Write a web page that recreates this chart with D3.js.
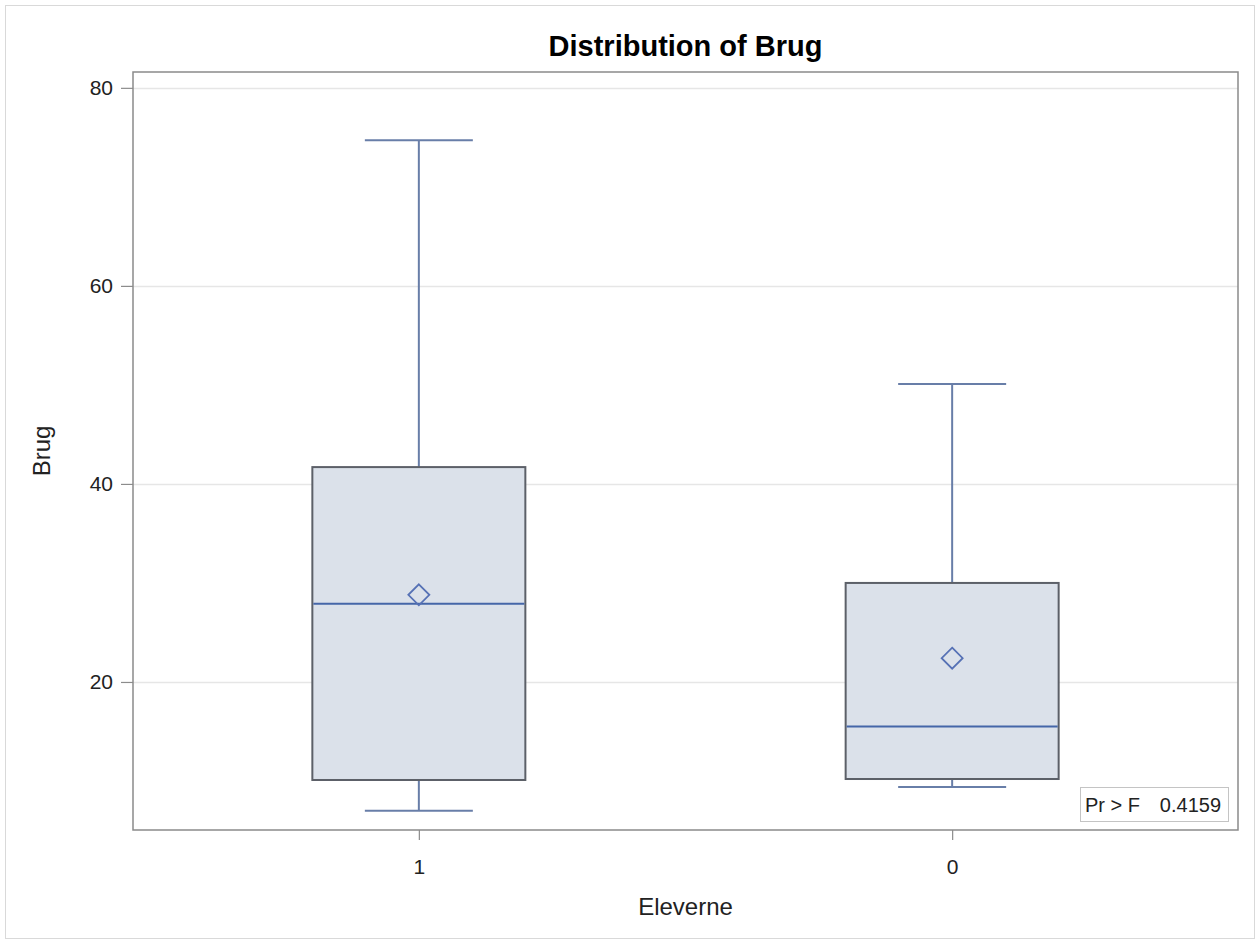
<!DOCTYPE html>
<html>
<head>
<meta charset="utf-8">
<script src="https://cdn.jsdelivr.net/npm/d3@7"></script>
<style>
  html, body { margin: 0; padding: 0; background: #fff; }
  svg { display: block; font-family: "Liberation Sans", Arial, sans-serif; }
</style>
</head>
<body>
<svg id="chart" width="1258" height="941"></svg>
<script>
// Groups of "Eleverne" and the summaries of "Brug"
const groups   = ["1", "0"];
const whiskLo  = [7, 9.4];
const q1       = [10.1, 10.2];
const medians  = [27.9, 15.5];
const means    = [28.8, 22.4];
const q3       = [41.7, 30];
const whiskHi  = [74.7, 50.1];
const yTicks   = [20, 40, 60, 80];
const pValue   = "0.4159";

const svg = d3.select("#chart");
const W = 1258, H = 941;
const plot = { left: 133, top: 72, right: 1238, bottom: 830 };

// Outer frame
svg.append("rect")
  .attr("x", 5.5).attr("y", 5.5).attr("width", W - 9).attr("height", H - 8)
  .attr("fill", "#fff").attr("stroke", "#d9d9d9").attr("stroke-width", 1);

const x = d3.scalePoint()
  .domain(groups)
  .range([plot.left, plot.right])
  .padding(0.536);

const y = d3.scaleLinear()
  .domain([5.05, 81.6])
  .range([plot.bottom, plot.top]);

const boxW = 213, capW = 108;

// Grid lines
svg.append("g").selectAll("line").data(yTicks).join("line")
  .attr("x1", plot.left).attr("x2", plot.right)
  .attr("y1", d => Math.round(y(d)) + 0.5).attr("y2", d => Math.round(y(d)) + 0.5)
  .attr("stroke", "#e6e6e6").attr("stroke-width", 1.5);

// Axes
const yAxis = svg.append("g")
  .attr("transform", `translate(${plot.left},0)`)
  .call(d3.axisLeft(y).tickValues(yTicks).tickSize(12).tickPadding(8).tickFormat(d3.format("d")));
const xAxis = svg.append("g")
  .attr("transform", `translate(0,${plot.bottom})`)
  .call(d3.axisBottom(x).tickSize(10).tickPadding(19));
[yAxis, xAxis].forEach(a => {
  a.select(".domain").remove();
  a.selectAll(".tick line").attr("stroke", "#8c8c8c").attr("stroke-width", 1.2);
  a.selectAll(".tick text").attr("fill", "#222").style("font-size", "21px")
    .style("font-family", "Liberation Sans, Arial, sans-serif");
});

// Boxes, whiskers, medians and means
groups.forEach((g, i) => {
  const c = x(g);
  const gg = svg.append("g");
  gg.append("line").attr("x1", c).attr("x2", c)
    .attr("y1", y(q3[i])).attr("y2", y(whiskHi[i]))
    .attr("stroke", "#687ea8").attr("stroke-width", 2);
  gg.append("line").attr("x1", c).attr("x2", c)
    .attr("y1", y(q1[i])).attr("y2", y(whiskLo[i]))
    .attr("stroke", "#687ea8").attr("stroke-width", 2);
  [whiskHi[i], whiskLo[i]].forEach(v => {
    gg.append("line").attr("x1", c - capW / 2).attr("x2", c + capW / 2)
      .attr("y1", y(v)).attr("y2", y(v))
      .attr("stroke", "#687ea8").attr("stroke-width", 2);
  });
  gg.append("rect")
    .attr("x", c - boxW / 2).attr("width", boxW)
    .attr("y", y(q3[i])).attr("height", y(q1[i]) - y(q3[i]))
    .attr("fill", "#dbe1ea").attr("stroke", "#5c6068").attr("stroke-width", 2);
  gg.append("line").attr("x1", c - boxW / 2 + 1).attr("x2", c + boxW / 2 - 1)
    .attr("y1", y(medians[i])).attr("y2", y(medians[i]))
    .attr("stroke", "#4566a8").attr("stroke-width", 2);
  const my = y(means[i]), r = 10.5;
  gg.append("path")
    .attr("d", `M${c},${my - r}L${c + r},${my}L${c},${my + r}L${c - r},${my}Z`)
    .attr("fill", "none").attr("stroke", "#5671b5").attr("stroke-width", 1.8);
});

// Plot frame
svg.append("rect")
  .attr("x", plot.left).attr("y", plot.top)
  .attr("width", plot.right - plot.left).attr("height", plot.bottom - plot.top)
  .attr("fill", "none").attr("stroke", "#8a8a8a").attr("stroke-width", 1.5);

// Inset statistic
const inset = svg.append("g");
inset.append("rect").attr("x", 1080.5).attr("y", 787.5).attr("width", 148).attr("height", 34)
  .attr("fill", "#fff").attr("stroke", "#c4c4c4").attr("stroke-width", 1);
inset.append("text").attr("x", 1085).attr("y", 812).attr("fill", "#222")
  .style("font-size", "20px").text("Pr > F");
inset.append("text").attr("x", 1221).attr("y", 812).attr("fill", "#222")
  .attr("text-anchor", "end").style("font-size", "20px").text(pValue);

// Title and axis labels
svg.append("text").attr("x", (plot.left + plot.right) / 2).attr("y", 56)
  .attr("text-anchor", "middle").attr("fill", "#000")
  .style("font-size", "29px").style("font-weight", "bold").text("Distribution of Brug");
svg.append("text").attr("x", (plot.left + plot.right) / 2).attr("y", 915)
  .attr("text-anchor", "middle").attr("fill", "#222")
  .style("font-size", "24px").text("Eleverne");
svg.append("text")
  .attr("transform", `translate(50,${(plot.top + plot.bottom) / 2}) rotate(-90)`)
  .attr("text-anchor", "middle").attr("fill", "#222")
  .style("font-size", "24px").text("Brug");
</script>
</body>
</html>
